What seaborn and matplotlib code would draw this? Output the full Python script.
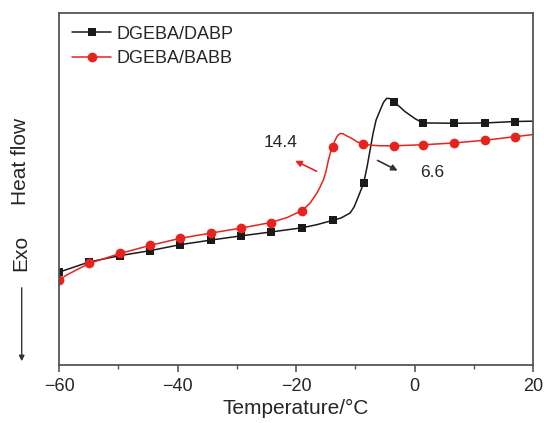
# DSC curves of the two epoxy systems (heat flow vs temperature)

import matplotlib
matplotlib.use("Agg")

import matplotlib.pyplot as plt
import pandas as pd
import seaborn as sns
from matplotlib.ticker import MultipleLocator

# curve values (heat flow in arbitrary units)
dabpTemp = [-60, -54.89, -49.70, -44.64, -39.58, -34.40, -29.33, -24.27, -18.99,
            -16.46, -13.84, -12.40, -10.89, -10.21, -9.53, -8.61, -8.02, -7.51,
            -7.00, -6.50, -5.82, -5.23, -4.69, -4.13, -3.54, -2.45, -1.60, -0.76,
            0.09, 0.93, 1.49, 6.67, 11.95, 17.01, 20]
dabpHeat = [2.64, 2.93, 3.11, 3.25, 3.42, 3.55, 3.67, 3.78, 3.90,
            3.99, 4.11, 4.18, 4.32, 4.49, 4.77, 5.16, 5.63, 6.11,
            6.59, 6.96, 7.24, 7.47, 7.58, 7.57, 7.48, 7.33, 7.20, 7.10,
            7.00, 6.92, 6.88, 6.87, 6.88, 6.92, 6.93]
dabpMarks = [0, 1, 2, 3, 4, 5, 6, 7, 8, 10, 15, 24, 30, 31, 32, 33]

babbTemp = [-60, -58.70, -54.89, -49.70, -44.64, -39.58, -34.40, -29.33, -24.27,
            -21.52, -18.99, -17.64, -16.51, -15.95, -15.39, -14.94, -14.55, -14.18,
            -13.84, -13.42, -12.99, -12.57, -12.07, -11.56, -10.60, -9.70, -8.64,
            -7.51, -5.82, -3.54, 1.49, 6.67, 11.95, 17.01, 20]
babbHeat = [2.41, 2.56, 2.89, 3.17, 3.40, 3.60, 3.75, 3.89, 4.05,
            4.19, 4.39, 4.60, 4.88, 5.06, 5.26, 5.51, 5.82, 6.05,
            6.20, 6.39, 6.52, 6.58, 6.57, 6.52, 6.44, 6.34, 6.29,
            6.25, 6.23, 6.23, 6.26, 6.31, 6.39, 6.49, 6.55]
babbMarks = [0, 2, 3, 4, 5, 6, 7, 8, 10, 18, 26, 29, 30, 31, 32, 33]

seriesNames = ["DGEBA/DABP", "DGEBA/BABB"]
xTicks = [-60, -40, -20, 0, 20]

sns.set_style("ticks")
plt.rcParams["font.family"] = ["Liberation Sans", "DejaVu Sans"]

fig, ax = plt.subplots(figsize=(5.44, 4.23), dpi=100)
fig.subplots_adjust(left=0.1085, right=0.98, bottom=0.137, top=0.969)

dfDabp = pd.DataFrame({"temp": dabpTemp, "heat": dabpHeat})
dfBabb = pd.DataFrame({"temp": babbTemp, "heat": babbHeat})

sns.lineplot(data=dfDabp, x="temp", y="heat", color="#1a1a1a", linewidth=1.1,
             marker="s", markersize=6, markeredgewidth=0, markevery=dabpMarks,
             label=seriesNames[0], ax=ax)
sns.lineplot(data=dfBabb, x="temp", y="heat", color="#e8231e", linewidth=1.1,
             marker="o", markersize=7, markeredgewidth=0, markevery=babbMarks,
             label=seriesNames[1], ax=ax)

# glass transition arrows and values
ax.annotate("", xy=(-20.56, 5.84), xytext=(-16.11, 5.47),
            arrowprops=dict(arrowstyle="-|>", color="#e8231e", lw=1.2, mutation_scale=9))
ax.text(-22.58, 6.32, "14.4", fontsize=12.5, ha="center", va="center")
ax.annotate("", xy=(-2.45, 5.49), xytext=(-6.67, 5.85),
            arrowprops=dict(arrowstyle="-|>", color="#333333", lw=1.2, mutation_scale=9))
ax.text(0.9, 5.46, "6.6", fontsize=12.5, ha="left", va="center")

ax.set_xlim(-60, 20)
ax.set_ylim(0, 10)
ax.set_xticks(xTicks)
ax.xaxis.set_minor_locator(MultipleLocator(10))
ax.set_yticks([])
ax.tick_params(axis="x", which="major", length=5, width=1.2, color="#555555",
               labelsize=13, pad=4)
ax.tick_params(axis="x", which="minor", length=3, width=1.0, color="#555555")
ax.set_xlabel("Temperature/°C", fontsize=15, labelpad=3)
ax.set_ylabel("")
for spine in ax.spines.values():
    spine.set_visible(True)
    spine.set_color("#555555")
    spine.set_linewidth(1.3)

ax.legend(loc="upper left", bbox_to_anchor=(0.0, 1.0), frameon=False, fontsize=13,
          handlelength=2.2, handletextpad=0.3, labelspacing=0.4, borderaxespad=0.3)

# "Heat flow" / "Exo" label with arrow pointing down on the left
fig.text(21 / 544, 1 - 161 / 423, "Heat flow", rotation=90, fontsize=15,
         ha="center", va="center")
fig.text(21 / 544, 1 - 253 / 423, "Exo", rotation=90, fontsize=15,
         ha="center", va="center")
ax.annotate("", xy=(21.7 / 544, 1 - 364 / 423), xytext=(21.7 / 544, 1 - 285 / 423),
            xycoords="figure fraction", textcoords="figure fraction",
            annotation_clip=False,
            arrowprops=dict(arrowstyle="-|>", color="#333333", lw=1.0, mutation_scale=8))

fig.savefig("out.png", dpi=100)
plt.close(fig)
